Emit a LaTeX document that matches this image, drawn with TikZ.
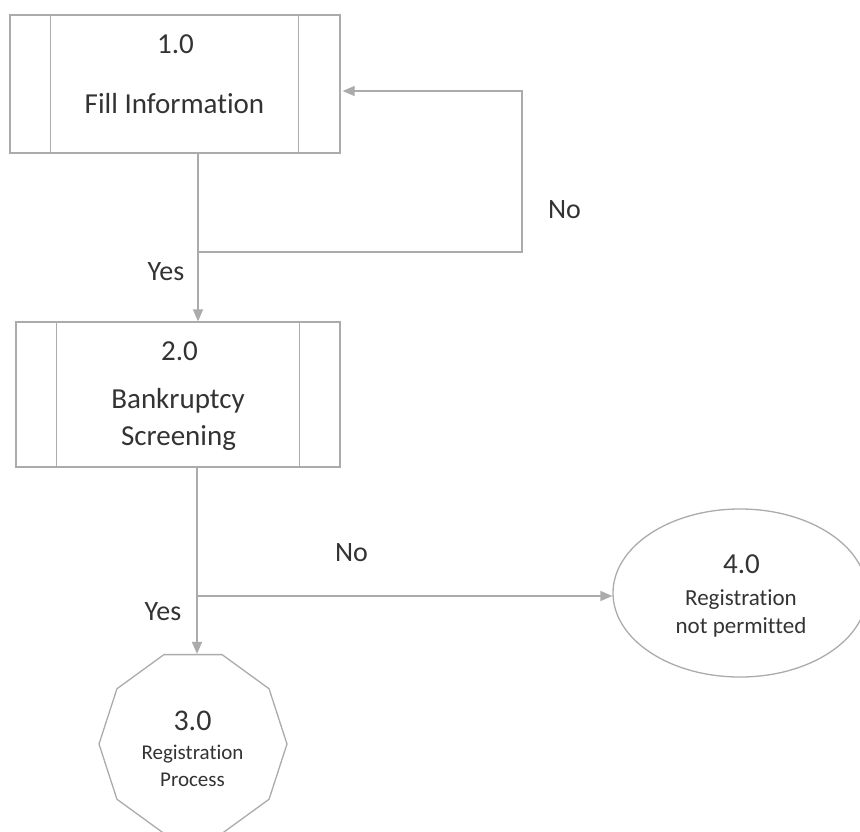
\documentclass[tikz,border=0pt]{standalone}
\usepackage{fontspec}
\setmainfont[Ligatures=NoCommon]{Carlito}
\usetikzlibrary{arrows.meta,shapes.geometric}
\definecolor{linegray}{HTML}{ABABAB}
\definecolor{txtgray}{HTML}{333333}
\tikzset{
  shapeline/.style={draw=linegray, line width=1.3pt},
  conn/.style={draw=linegray, line width=1.3pt},
  arr/.style={conn, -{Triangle[length=12pt,width=10pt,fill=linegray]}},
  txt/.style={text=txtgray, inner sep=0pt, anchor=base},
  big/.style={txt, font=\fontsize{29}{35}\selectfont},
  mid/.style={txt, font=\fontsize{23}{28}\selectfont},
  small/.style={txt, font=\fontsize{21}{25}\selectfont},
  lab/.style={txt, font=\fontsize{28}{34}\selectfont},
}
\begin{document}
\begin{tikzpicture}[x=1pt,y=-1pt]
\useasboundingbox (0,0) rectangle (860,831);
% box 1
\node[shapeline, rectangle, minimum width=330pt, minimum height=138pt, inner sep=0pt] (b1) at (175,84) {};
\draw[shapeline] ([xshift=41pt]b1.north west) -- ([xshift=41pt]b1.south west);
\draw[shapeline] ([xshift=-42pt]b1.north east) -- ([xshift=-42pt]b1.south east);
\node[big] (t1a) at (175.5,53) {1.0};
\node[big] (t1b) at (174.5,113) {Fill Information};
% box 2
\node[shapeline, rectangle, minimum width=324pt, minimum height=145pt, inner sep=0pt] (b2) at (178,394.5) {};
\draw[shapeline] ([xshift=41pt]b2.north west) -- ([xshift=41pt]b2.south west);
\draw[shapeline] ([xshift=-41pt]b2.north east) -- ([xshift=-41pt]b2.south east);
\node[big] (t2a) at (179.5,360) {2.0};
\node[big] (t2b) at (178,408) {Bankruptcy};
\node[big] (t2c) at (178.5,445) {Screening};
% decagon 3.0
\node[shapeline, regular polygon, regular polygon sides=10, minimum size=188pt, inner sep=0pt] (p3) at (193,744) {};
\node[txt, font=\fontsize{30}{36}\selectfont] (t3a) at (192.5,730) {3.0};
\node[small] (t3b) at (192.5,759) {Registration};
\node[small] (t3c) at (192.5,786) {Process};
% ellipse 4.0
\node[shapeline, ellipse, minimum width=254pt, minimum height=168pt, inner sep=0pt] (p4) at (740,593) {};
\node[big] (t4a) at (741.5,573) {4.0};
\node[mid] (t4b) at (741,605) {Registration};
\node[mid] (t4c) at (741,633) {not permitted};
% connectors
\coordinate (j1) at (198,252);
\coordinate (c1) at (522,252);
\coordinate (c2) at (522,91);
\draw[arr] (j1 |- b1.south) -- (j1 |- b2.north);
\draw[arr] (j1) -- (c1) -- (c2) -- ([xshift=2pt]c2 -| b1.east);
\coordinate (j2) at (197,596);
\draw[conn] (j2 |- b2.south) -- (j2);
\draw[arr] (j2) -- (j2 |- p3.north);
\draw[arr] (j2) -- (j2 -| p4.west);
% labels
\node[lab] (y1) at (166,280) {Yes};
\node[lab] (n1) at (564.5,218) {No};
\node[lab] (n2) at (351.5,561) {No};
\node[lab] (y2) at (163,620) {Yes};
\end{tikzpicture}
\end{document}
